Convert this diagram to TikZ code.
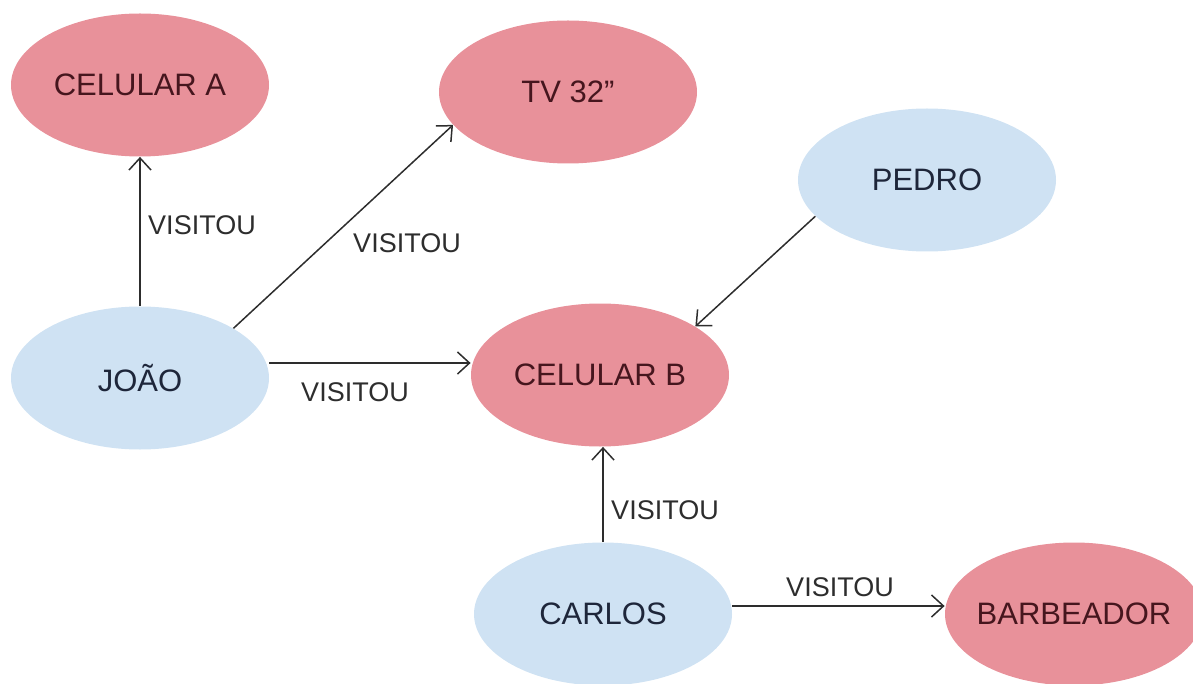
\documentclass[tikz,border=0pt]{standalone}
\usepackage{fontspec}
\setmainfont{Liberation Sans}
\usepackage{tikz}
\usetikzlibrary{shapes,arrows.meta,positioning}

\definecolor{produto}{RGB}{232,145,154}
\definecolor{pessoa}{RGB}{207,226,243}
\definecolor{txtproduto}{RGB}{70,22,30}
\definecolor{txtpessoa}{RGB}{30,38,58}
\definecolor{linha}{RGB}{45,45,45}

\begin{document}
\begin{tikzpicture}[x=0.5pt, y=-0.5pt]
    \tikzset{
        base/.style     =   { ellipse
                            , text centered
                            , inner ysep=0pt
                            , inner xsep=-6pt
                            , minimum width=129pt
                            , minimum height=71.5pt
                            , font=\fontsize{15.5pt}{18pt}\selectfont
        }
        , prod/.style   =   { base
                            , fill=produto
                            , text=txtproduto
        }
        , pess/.style   =   { base
                            , fill=pessoa
                            , text=txtpessoa
        }
        , arrow/.style  =   { draw=linha
                            , line width=0.75pt
                            , -{Straight Barb[length=6pt,width=11pt]}
        }
        , rotulo/.style =   { text=linha
                            , inner sep=0pt
                            , font=\fontsize{13.5pt}{16pt}\selectfont
        }
    }
    \useasboundingbox (0,0) rectangle (1193,684);

    \node(celA)[prod]   at (140,85)   {CELULAR A};
    \node(tv)[prod]     at (568,92)   {TV 32''};
    \node(pedro)[pess]  at (927,180)  {PEDRO};
    \node(joao)[pess]   at (140,378)  {JOÃO};
    \node(celB)[prod]   at (600,375)  {CELULAR B};
    \node(carlos)[pess] at (603,614)  {CARLOS};
    \node(barb)[prod]   at (1074,614) {BARBEADOR};

    \draw[arrow] (joao.north) -- (celA.south);
    \draw[arrow] (joao.28) -- (tv.196);
    \draw[arrow] ([yshift=7.5pt]joao.east) -- ([yshift=7.5pt]joao.east -| celB.west);
    \draw[arrow] (pedro.198) -- (celB.27);
    \draw[arrow] (carlos.north) -- (carlos.north |- celB.south);
    \draw[arrow] ([yshift=4pt]carlos.east) -- ([yshift=4pt]barb.west);

    \node(v1)[rotulo] at (202,225) {VISITOU};
    \node(v2)[rotulo] at (407,243) {VISITOU};
    \node(v3)[rotulo] at (355,392) {VISITOU};
    \node(v4)[rotulo] at (665,510) {VISITOU};
    \node(v5)[rotulo] at (840,587) {VISITOU};
\end{tikzpicture}
\end{document}
